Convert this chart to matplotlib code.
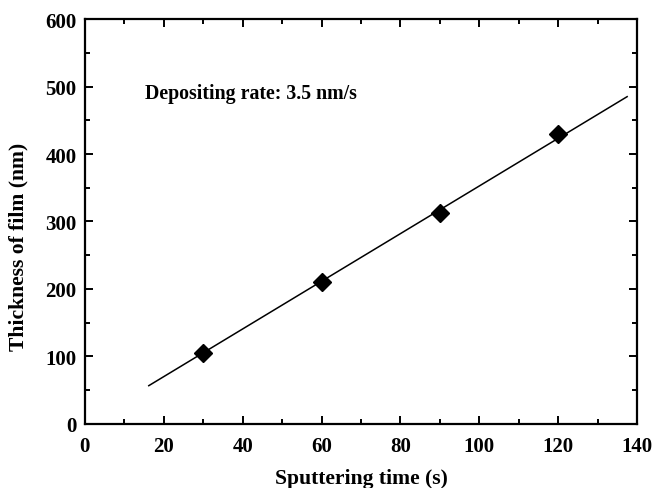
import matplotlib.pyplot as plt
from matplotlib.ticker import MultipleLocator

plt.rcParams['font.family'] = ['Liberation Serif', 'DejaVu Serif']
plt.rcParams['font.weight'] = 'bold'

# measured points
time_s = [30, 60, 90, 120]
thickness_nm = [105, 211, 312, 430]

# fitted line endpoints
fit_x = [16.2, 137.5]
fit_y = [56.7, 485]

fig = plt.figure(figsize=(6.53, 4.89), dpi=100)
ax = fig.add_axes([0.130, 0.131, 0.8455, 0.828])

ax.plot(fit_x, fit_y, color='black', lw=1.1)
ax.plot(time_s, thickness_nm, linestyle='none', marker='D', color='black', markersize=9)

ax.text(15.2, 483, 'Depositing rate: 3.5 nm/s', fontsize=14.3, fontweight='bold')

ax.set_xlim(0, 140)
ax.set_ylim(0, 600)
ax.xaxis.set_major_locator(MultipleLocator(20))
ax.xaxis.set_minor_locator(MultipleLocator(10))
ax.yaxis.set_major_locator(MultipleLocator(100))
ax.yaxis.set_minor_locator(MultipleLocator(50))

for s in ax.spines.values():
    s.set_linewidth(1.6)
ax.tick_params(which='both', direction='in', top=True, right=True, width=1.4, labelsize=15)
ax.tick_params(which='major', length=6)
ax.tick_params(which='minor', length=3.5)
ax.tick_params(axis='x', pad=9)
ax.tick_params(axis='y', pad=6)

ax.set_xlabel('Sputtering time (s)', fontsize=15.6, fontweight='bold', labelpad=8)
ax.set_ylabel('Thickness of film (nm)', fontsize=15.6, fontweight='bold')
ax.yaxis.set_label_coords(-0.103, 0.44)

plt.savefig('out.png', dpi=100)
